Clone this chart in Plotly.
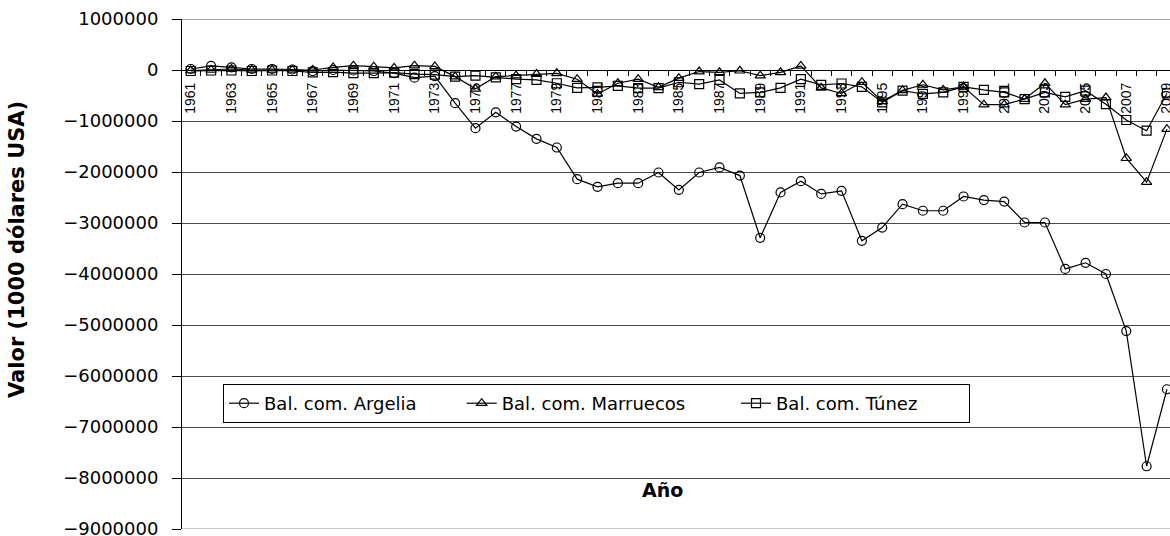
import plotly.graph_objects as go

years = list(range(1961, 2010))
tick_years = list(range(1961, 2010, 2))

argelia = [20000, 80000, 50000, 20000, 20000, 10000, -20000, 0, -10000, -20000,
           -60000, -150000, -120000, -650000, -1140000, -830000, -1110000, -1350000, -1520000, -2140000,
           -2290000, -2220000, -2220000, -2010000, -2350000, -2010000, -1910000, -2070000, -3290000, -2400000,
           -2180000, -2430000, -2370000, -3350000, -3090000, -2630000, -2760000, -2760000, -2480000, -2550000,
           -2580000, -2990000, -2990000, -3900000, -3780000, -4000000, -5120000, -7770000, -6260000]

marruecos = [-10000, 0, 20000, 0, 0, 0, 0, 50000, 85000, 65000,
             40000, 85000, 70000, -130000, -370000, -130000, -110000, -80000, -65000, -180000,
             -470000, -260000, -180000, -340000, -160000, -30000, -45000, -15000, -110000, -45000,
             80000, -350000, -460000, -240000, -615000, -400000, -290000, -390000, -330000, -680000,
             -680000, -570000, -260000, -680000, -570000, -540000, -1730000, -2200000, -1160000]

tunez = [-20000, -10000, -10000, -20000, -10000, -20000, -45000, -40000, -60000, -60000,
         -50000, -80000, -90000, -130000, -110000, -145000, -180000, -195000, -260000, -350000,
         -340000, -310000, -355000, -355000, -240000, -275000, -195000, -460000, -440000, -350000,
         -180000, -290000, -265000, -330000, -635000, -405000, -470000, -440000, -330000, -390000,
         -440000, -570000, -440000, -525000, -405000, -670000, -980000, -1190000, -460000]

names = ["Bal. com. Argelia", "Bal. com. Marruecos", "Bal. com. Túnez"]
pads = [7, 8, 8]  # non-breaking spaces to widen legend entries
symbols = ["circle-open", "triangle-up-open", "square-open"]
values = [argelia, marruecos, tunez]
y_min, y_max = -9000000, 1000000

fig = go.Figure()
for name, pad, vals, sym in zip(names, pads, values, symbols):
    fig.add_trace(go.Scatter(
        x=years, y=vals, name=name + "\u00a0" * pad, mode="lines+markers",
        line=dict(color="black", width=1.2),
        marker=dict(symbol=sym, size=9, color="black", line=dict(width=1.2, color="black")),
    ))

W, H = 1170, 536
L, R, T, B = 182, 0, 19, 7
pw, ph = W - L - R, H - T - B

# edge gridlines (top and bottom of the value range)
edge_lines = [
    dict(type="line", xref="paper", yref="y", x0=0, x1=1, y0=v, y1=v,
         line=dict(color=c, width=1), layer="below")
    for v, c in ((y_max, "#4a4a4a"), (y_min, "#8a8a8a"))
]

fig.update_layout(
    width=W, height=H,
    margin=dict(l=L, r=R, t=T, b=B, pad=0, autoexpand=False),
    paper_bgcolor="white", plot_bgcolor="white",
    font=dict(family="DejaVu Sans", color="black"),
    showlegend=True,
    legend=dict(
        orientation="h",
        x=(223 - L) / pw, y=(H - B - 384) / ph,
        xanchor="left", yanchor="top",
        bgcolor="white", bordercolor="black", borderwidth=1,
        font=dict(family="DejaVu Sans", size=18, color="black"),
        itemwidth=30, tracegroupgap=0,
    ),
    xaxis=dict(
        range=[1960.57, 2009.15],
        anchor="free", position=0.9,
        tickvals=tick_years, ticktext=[str(y) for y in tick_years],
        tickangle=-90, ticks="", ticklabelstandoff=6,
        ticklabeloverflow="allow",
        tickfont=dict(family="Liberation Sans", size=14, color="black"),
        showline=True, linecolor="black", linewidth=1,
        showgrid=False, zeroline=False,
        layer="below traces",
        minor=dict(tick0=1960.5, dtick=1, ticks="outside", ticklen=5,
                   tickcolor="black", tickwidth=1, showgrid=False),
    ),
    yaxis=dict(
        range=[y_min, y_max], dtick=1000000, tick0=0,
        tickformat="d",
        ticks="outside", ticklen=9, tickcolor="black", tickwidth=1,
        ticklabelstandoff=10, ticklabeloverflow="allow",
        tickfont=dict(family="DejaVu Sans", size=18, color="black"),
        showline=True, linecolor="black", linewidth=1,
        showgrid=True, gridcolor="#4a4a4a", gridwidth=1,
        zeroline=False,
    ),
    shapes=edge_lines,
    annotations=[
        dict(text="<b>Valor (1000 dólares USA)</b>", textangle=-90,
             xref="paper", yref="paper",
             x=(17 - L) / pw, y=(H - B - 250) / ph,
             xanchor="center", yanchor="middle", showarrow=False,
             font=dict(family="DejaVu Sans", size=21, color="black")),
        dict(text="<b>Año</b>",
             xref="paper", yref="paper",
             x=(662 - L) / pw, y=(H - B - 490) / ph,
             xanchor="center", yanchor="middle", showarrow=False,
             font=dict(family="DejaVu Sans", size=19, color="black")),
    ],
)

fig.write_html("out.html", config={"displayModeBar": False},
               post_script="document.body.style.margin='0px';")
